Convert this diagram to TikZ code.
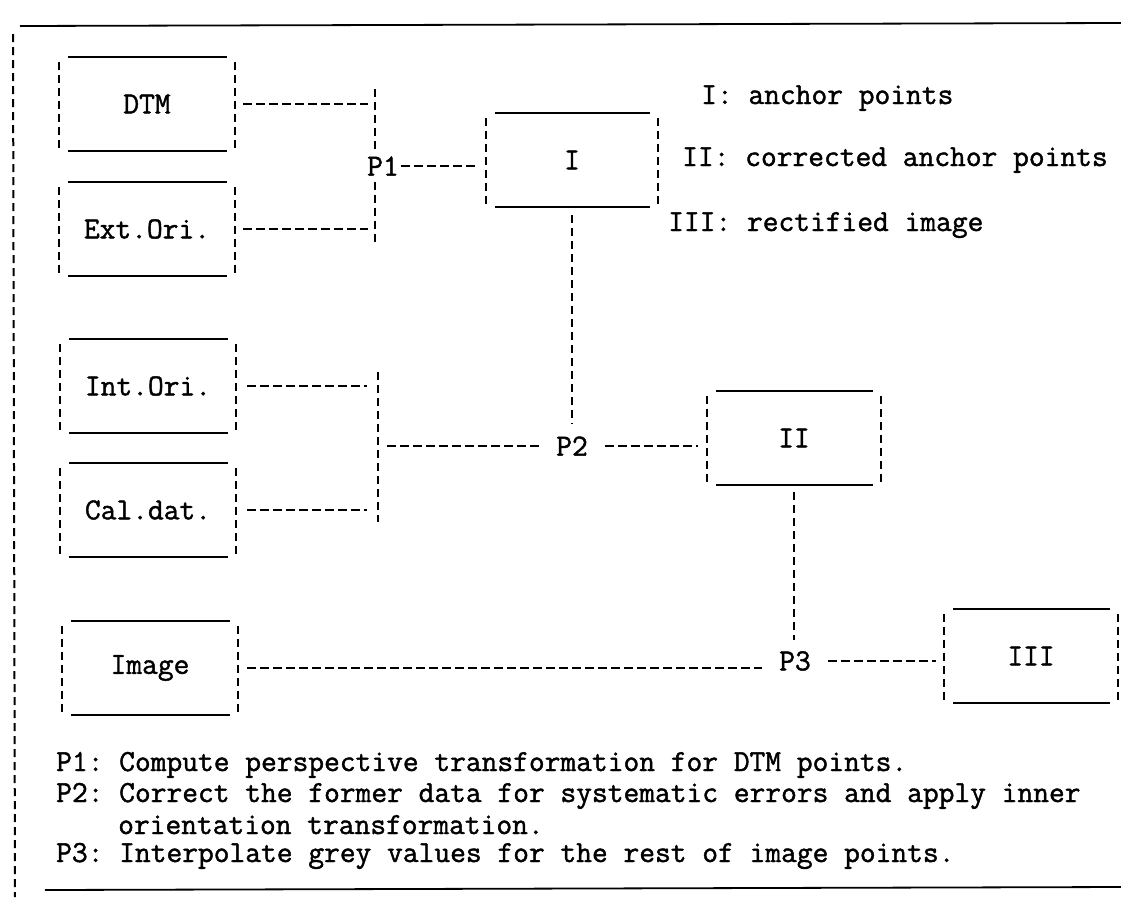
\documentclass[tikz,border=0pt]{standalone}
\usepackage{fontspec}
\newfontfamily\typew{Latin Modern Mono}[FakeBold=1.4]
\tikzset{
  blk/.style={minimum width=176pt, minimum height=94pt, inner sep=0pt},
  conn/.style={line width=2pt, dash pattern=on 9pt off 4pt},
  vdash/.style={line width=2pt, dash pattern=on 8pt off 5pt},
  rule/.style={line width=1.8pt},
  junc/.style={inner xsep=17pt, inner ysep=6pt},
  txt/.style={anchor=base west, inner sep=0pt}
}
\frenchspacing
\begin{document}
\begin{tikzpicture}[x=1pt,y=-1pt,font=\typew\fontsize{30.6}{32}\selectfont]
    \useasboundingbox (0,0) rectangle (1121,897);
    % frame
    \draw[rule] (20,26) -- (1121,23);
    \draw[vdash] (13,34) -- (15,897);
    \draw[rule] (45,890) -- (1121,887);

    % boxes
    \node[blk] (dtm) at (147,104) {DTM};
    \node[blk] (ext) at (147,229) {Ext.Ori.};
    \node[blk] (int) at (148,386) {Int.Ori.};
    \node[blk] (cal) at (148,510) {Cal.dat.};
    \node[blk] (img) at (150,668) {Image};
    \node[blk, minimum width=172pt] (anc) at (572,160) {I};
    \node[blk, minimum width=174pt] (cor) at (794,438) {II};
    \node[blk, minimum width=174pt] (rec) at (1031,656) {III};
    \foreach \n in {dtm,ext,int,cal,img,anc,cor,rec} {
        \draw[rule] ([xshift=9pt]\n.north west) -- ([xshift=-8pt]\n.north east);
        \draw[rule] ([xshift=9pt]\n.south west) -- ([xshift=-8pt]\n.south east);
        \draw[vdash] ([yshift=-5pt]\n.north west) -- ([yshift=3pt]\n.south west);
        \draw[vdash] ([yshift=-5pt]\n.north east) -- ([yshift=3pt]\n.south east);
    }

    % processes
    \node[junc, inner xsep=2pt] (p1) at (383,166) {P1};
    \node[junc] (p2) at (572,446) {P2};
    \node[junc] (p3) at (795,661) {P3};
    \coordinate (b1t) at (375,89);
    \coordinate (b1b) at (375,242);
    \coordinate (b2t) at (378,372);
    \coordinate (b2b) at (378,522);
    \coordinate (b2m) at (378,446);

    % P1
    \draw[vdash] (b1t) -- (b1t |- p1.north);
    \draw[vdash] (b1b |- p1.south) -- (b1b);
    \draw[conn, shorten <=8pt, shorten >=7pt] (dtm.east) -- (dtm.east -| b1t);
    \draw[conn, shorten <=8pt, shorten >=7pt] (ext.east) -- (ext.east -| b1t);
    \draw[conn, shorten >=9pt] (p1.east) -- (p1.east -| anc.west);

    % P2
    \draw[vdash] (b2t) -- (b2b);
    \draw[conn, shorten <=11pt, shorten >=11pt] (int.east) -- (int.east -| b2t);
    \draw[conn, shorten <=11pt, shorten >=11pt] (cal.east) -- (cal.east -| b2t);
    \draw[conn, shorten <=9pt] (b2m) -- (p2.west);
    \draw[vdash, shorten <=8pt, shorten >=7pt] (anc.south) -- (p2.north);
    \draw[conn, shorten >=9pt] (p2.east) -- (p2.east -| cor.west);

    % P3
    \draw[vdash, shorten <=7pt, shorten >=5pt] (cor.south) -- (cor.south |- p3.north);
    \draw[conn, shorten <=9pt] (img.east) -- (img.east -| p3.west);
    \draw[conn, shorten >=8pt] (p3.east) -- (p3.east -| rec.west);

    % legend
    \node[txt] (l1) at (701,104) {I: anchor points};
    \node[txt] (l2) at (682,166) {II: corrected anchor points};
    \node[txt] (l3) at (668,231) {III: rectified image};

    % notes
    \node[txt] (n1) at (56,771) {P1: Compute perspective transformation for DTM points.};
    \node[txt] (n2) at (56,802) {P2: Correct the former data for systematic errors and apply inner};
    \node[txt] (n3) at (118,834) {orientation transformation.};
    \node[txt] (n4) at (56,862) {P3: Interpolate grey values for the rest of image points.};
\end{tikzpicture}
\end{document}
